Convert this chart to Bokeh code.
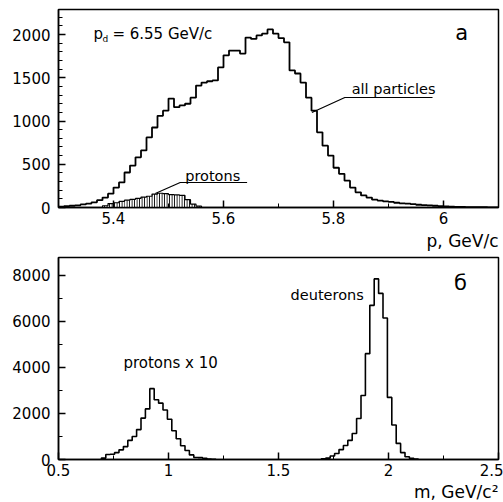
from bokeh.plotting import figure
from bokeh.layouts import column
from bokeh.models import FixedTicker, Label, Range1d, Title
from bokeh.embed import file_html
from bokeh.resources import INLINE

# ---------------- data ----------------
# panel a: momentum spectra, bins of 0.01 GeV/c starting at 5.30
P_START = 5.30
P_BIN = 0.01
all_particles = [10, 15, 20, 25, 35, 45, 60, 85, 115, 160,
                 230, 290, 405, 485, 580, 660, 810, 925, 1060, 1120,
                 1260, 1160, 1180, 1200, 1270, 1410, 1445, 1460, 1470, 1620,
                 1760, 1815, 1815, 1780, 1965, 1950, 1990, 2010, 2060, 2010,
                 1960, 1910, 1585, 1550, 1445, 1270, 1120, 870, 715, 600,
                 460, 390, 310, 230, 175, 140, 115, 90, 80, 70,
                 65, 55, 48, 45, 38, 32, 28, 25, 20, 15,
                 12, 10, 8, 6, 5, 4, 3, 3, 2, 2]
PROT_P_START = 5.38
protons_p = [20, 45, 55, 70, 85, 95, 105, 120, 130, 155,
             165, 160, 150, 145, 140, 90, 40, 15]

# panel b: mass spectra, bins of 0.02 GeV/c^2
M_BIN = 0.02
PROT_M_START = 0.695
protons_x10 = [60, 220, 230, 300, 420, 560, 830, 1000, 1300, 1800,
               2200, 3080, 2600, 2450, 2150, 1750, 1250, 900, 600, 390,
               200, 90, 80, 50, 20, 10]
DEUT_M_START = 1.695
deuterons = [30, 60, 150, 260, 430, 610, 830, 1130, 1780, 2780,
             4600, 6700, 7850, 7220, 6150, 2700, 1500, 700, 300, 120,
             50, 20]

# ticks
top_x_ticks = [5.4, 5.6, 5.8, 6.0]
top_x_labels = ["5.4", "5.6", "5.8", "6"]
top_x_minor = [5.3, 5.5, 5.7, 5.9, 6.1]
top_y_ticks = [0, 500, 1000, 1500, 2000]
top_y_labels = ["0", "500", "1000", "1500", "2000"]
bot_x_ticks = [0.5, 1.0, 1.5, 2.0, 2.5]
bot_x_labels = ["0.5", "1", "1.5", "2", "2.5"]
bot_x_minor = [0.75, 1.25, 1.75, 2.25]
bot_y_ticks = [0, 2000, 4000, 6000, 8000]
bot_y_labels = ["0", "2000", "4000", "6000", "8000"]
bot_y_minor = [1000, 3000, 5000, 7000]

FONT = "DejaVu Sans"


def step_xy(start, width, counts):
    lo = [start + i * width for i in range(len(counts))]
    xs = [lo[0]] + lo + [lo[-1] + width]
    ys = [0] + list(counts) + [0]
    return lo, xs, ys


def style(fig, xt, xl, xm, yt, yl, ym):
    fig.xaxis.ticker = FixedTicker(ticks=xt, minor_ticks=xm)
    fig.xaxis.major_label_overrides = {t: l for t, l in zip(xt, xl)}
    fig.yaxis.ticker = FixedTicker(ticks=yt, minor_ticks=ym)
    fig.yaxis.major_label_overrides = {t: l for t, l in zip(yt, yl)}
    for ax in (fig.xaxis[0], fig.yaxis[0]):
        ax.axis_line_color = "black"
        ax.axis_line_width = 1.5
        ax.major_tick_in = 7
        ax.major_tick_out = 0
        ax.minor_tick_in = 4
        ax.minor_tick_out = 0
        ax.major_tick_line_color = "black"
        ax.minor_tick_line_color = "black"
        ax.major_tick_line_width = 1.5
        ax.minor_tick_line_width = 1
        ax.major_label_text_font = FONT
        ax.major_label_text_font_size = "15px"
        ax.major_label_text_color = "black"
    fig.yaxis.major_label_standoff = 8
    fig.xaxis.major_label_standoff = 4
    fig.xgrid.visible = False
    fig.ygrid.visible = False
    fig.outline_line_color = "black"
    fig.outline_line_width = 1.5
    fig.outline_line_alpha = 1.0
    fig.background_fill_color = "white"
    fig.border_fill_color = "white"


def lab(fig, x, y, text, size="15px", align="left", xo=0, yo=0, style_="normal"):
    fig.add_layout(Label(x=x, y=y, text=text, text_font=FONT, text_font_size=size,
                         text_align=align, text_baseline="middle", text_color="black",
                         x_offset=xo, y_offset=yo, text_font_style=style_))


def axis_title(fig, text, standoff):
    fig.add_layout(Title(text=text, align="right", text_font=FONT, text_font_size="17px",
                         text_font_style="normal", text_color="black",
                         standoff=standoff, offset=0), "below")


# ---------------- panel a ----------------
p1 = figure(width=503, height=252, output_backend="svg", toolbar_location=None,
            x_range=Range1d(5.3, 6.1), y_range=Range1d(0, 2290),
            min_border_left=58, min_border_right=4, min_border_top=9, min_border_bottom=0)
style(p1, top_x_ticks, top_x_labels, top_x_minor, top_y_ticks, top_y_labels,
      [v for v in range(100, 2300, 100) if v % 500])

_, xs, ys = step_xy(P_START, P_BIN, all_particles)
p1.step(xs, ys, mode="after", line_color="black", line_width=1.8)

plo, pxs, pys = step_xy(PROT_P_START, P_BIN, protons_p)
p1.quad(left=plo, right=[v + P_BIN for v in plo], bottom=0, top=protons_p,
        fill_color="white", hatch_pattern="|", hatch_scale=2.5, hatch_weight=1.2,
        hatch_color="black", line_color=None)
p1.step(pxs, pys, mode="after", line_color="black", line_width=1.2)

# annotations
lab(p1, 5.3635, 2011, "p")
lab(p1, 5.3635, 2011, "d", size="9px", xo=9, yo=-5)
lab(p1, 5.3635, 2011, "= 6.55 GeV/c", xo=19)
lab(p1, 6.033, 2023, "а", size="21px", align="center")
lab(p1, 5.833, 1376, "all particles", size="14.5px")
p1.line([5.7608, 5.8206, 5.980], [1098, 1272, 1272], line_color="black", line_width=1.2)
lab(p1, 5.5304, 370, "protons", size="14.5px")
p1.line([5.476, 5.5213, 5.6429], [162, 289, 289], line_color="black", line_width=1.2)
axis_title(p1, "p, GeV/c", 4)

# ---------------- panel b ----------------
p2 = figure(width=503, height=250, output_backend="svg", toolbar_location=None,
            x_range=Range1d(0.5, 2.5), y_range=Range1d(0, 8780),
            min_border_left=58, min_border_right=5, min_border_top=5, min_border_bottom=0)
style(p2, bot_x_ticks, bot_x_labels, bot_x_minor, bot_y_ticks, bot_y_labels, bot_y_minor)

_, xs, ys = step_xy(PROT_M_START, M_BIN, protons_x10)
p2.step(xs, ys, mode="after", line_color="black", line_width=1.6)
_, xs, ys = step_xy(DEUT_M_START, M_BIN, deuterons)
p2.step(xs, ys, mode="after", line_color="black", line_width=1.6)

lab(p2, 0.795, 4174, "protons x 10")
lab(p2, 1.555, 7130, "deuterons", size="14.5px")
lab(p2, 2.327, 7652, "б", size="21px", align="center")
axis_title(p2, "m, GeV/c²", 2)

layout = column(p1, p2)
open("out.html", "w").write(file_html(layout, INLINE))
